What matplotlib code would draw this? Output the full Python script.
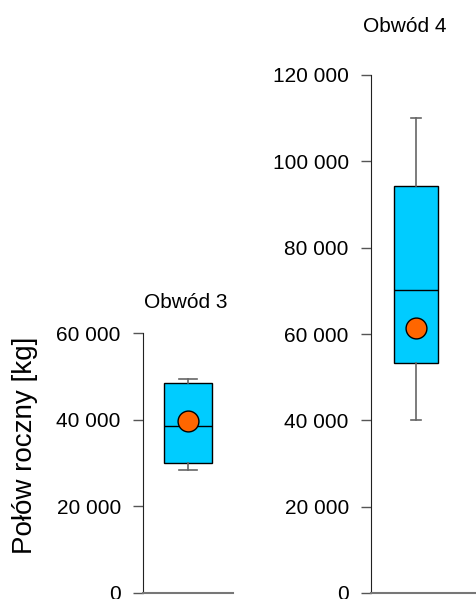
import matplotlib as mpl
mpl.use('Agg')
import matplotlib.pyplot as plt
from matplotlib.ticker import FuncFormatter

plt.rcParams['font.family'] = ['Liberation Sans', 'DejaVu Sans']

# box statistics
titles = ['Obwód 3', 'Obwód 4']
whislo = [28500, 40000]
q1 = [30000, 53300]
med = [38500, 70200]
q3 = [48400, 94200]
whishi = [49500, 110000]
means = [39800, 61300]
yticks = [[0, 20000, 40000, 60000], [0, 20000, 40000, 60000, 80000, 100000, 120000]]
ylabel = 'Połów roczny [kg]'


def fmt(v, pos=None):
    return f'{int(v):,}'.replace(',', ' ')


W, H = 477, 599
fig = plt.figure(figsize=(W / 100, H / 100), dpi=100)

# pixel boxes: left, right, top, bottom spine
boxes_px = [(143, 233, 333, 593), (371, 477, 75, 593)]
widths_px = [48, 44]
capw_px = [18, 10]
title_pos = [(186, 303), (405, 27)]

for i in range(2):
    x0, x1, yt, yb = boxes_px[i]
    ax = fig.add_axes([x0 / W, 1 - yb / H, (x1 - x0) / W, (yb - yt) / H])
    unit = 45.0  # px per data unit, box center 45 px from spine
    ax.set_xlim(0, (x1 - x0) / unit)
    stats = [dict(whislo=whislo[i], q1=q1[i], med=med[i], q3=q3[i],
                  whishi=whishi[i], mean=means[i], fliers=[])]
    ax.bxp(stats, positions=[1], widths=widths_px[i] / unit,
           capwidths=capw_px[i] / unit, showmeans=True, patch_artist=True,
           boxprops=dict(facecolor='#00CCFF', edgecolor='black', linewidth=1),
           medianprops=dict(color='black', linewidth=1),
           whiskerprops=dict(color='#666666', linewidth=1.2),
           capprops=dict(color='#666666', linewidth=1.2),
           meanprops=dict(marker='o', markerfacecolor='#FF6600',
                          markeredgecolor='black', markersize=15, markeredgewidth=1))
    ax.set_ylim(0, yticks[i][-1])
    ax.set_yticks(yticks[i])
    ax.yaxis.set_major_formatter(FuncFormatter(fmt))
    ax.set_xticks([])
    ax.spines['top'].set_visible(False)
    ax.spines['right'].set_visible(False)
    ax.spines['left'].set_color('#222222')
    ax.spines['bottom'].set_color('#777777')
    ax.spines['bottom'].set_linewidth(1.5)
    ax.tick_params(axis='y', direction='out', length=7, width=1, color='#555555',
                   labelsize=15, pad=9)
    ax.patch.set_visible(False)
    tx, ty = title_pos[i]
    fig.text(tx / W, 1 - ty / H, titles[i], ha='center', va='center', fontsize=15)

fig.text(25 / W, 1 - 445 / H, ylabel, rotation=90, ha='center', va='center', fontsize=20)

fig.savefig('out.png', dpi=100)
